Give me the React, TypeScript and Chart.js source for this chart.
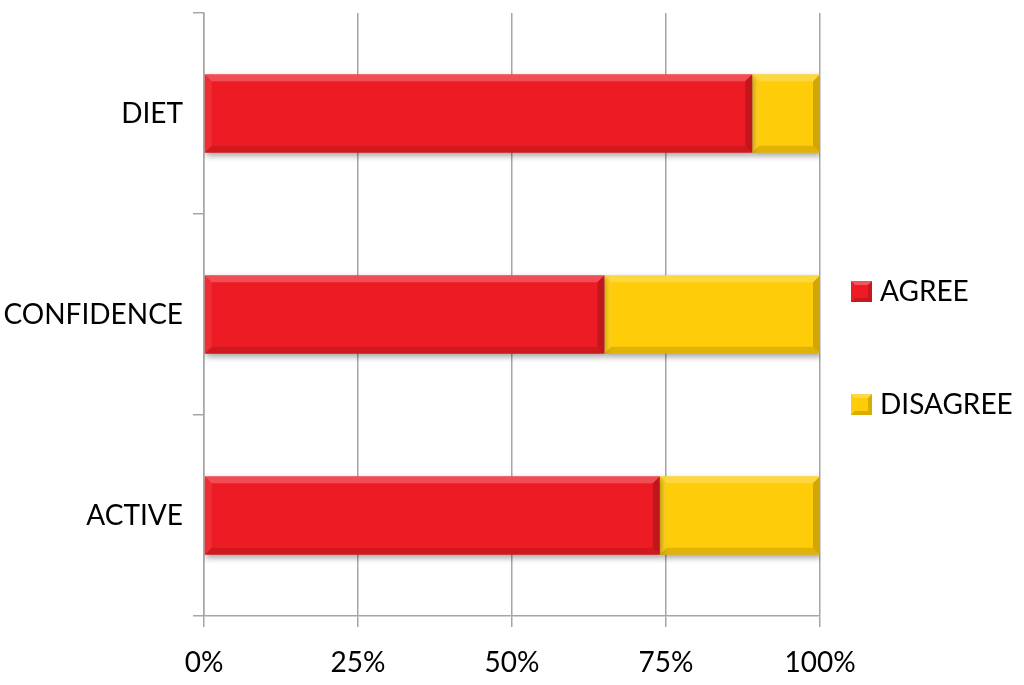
import React, { useEffect, useRef } from "react";
import { Chart, registerables } from "chart.js";

Chart.register(...registerables);

const categories = ["DIET", "CONFIDENCE", "ACTIVE"];
const agreeValues = [89, 65, 74];
const disagreeValues = [11, 35, 26];
const xTicks = [0, 25, 50, 75, 100];
const seriesNames = ["AGREE", "DISAGREE"];

const FONT = "Lato, 'Open Sans', sans-serif";
const RED = "#ED1C24";
const YELLOW = "#FECC08";

const bevelPlugin = {
  id: "bevel",
  beforeDatasetDraw(chart: any) {
    const ctx = chart.ctx;
    ctx.save();
    ctx.shadowColor = "rgba(0,0,0,0.35)";
    ctx.shadowBlur = 6;
    ctx.shadowOffsetY = 3;
    ctx.shadowOffsetX = 1;
  },
  afterDatasetDraw(chart: any, args: any) {
    const ctx = chart.ctx;
    ctx.restore();
    const meta = args.meta;
    const b = 7;
    meta.data.forEach((el: any) => {
      const p = el.getProps(["x", "y", "base", "height"], true);
      const l = Math.min(p.base, p.x);
      const r = Math.max(p.base, p.x);
      const t = p.y - p.height / 2;
      const bo = p.y + p.height / 2;
      const poly = (pts: number[][], color: string) => {
        ctx.beginPath();
        ctx.moveTo(pts[0][0], pts[0][1]);
        for (let i = 1; i < pts.length; i++) ctx.lineTo(pts[i][0], pts[i][1]);
        ctx.closePath();
        ctx.fillStyle = color;
        ctx.fill();
      };
      ctx.save();
      poly([[l, t], [r, t], [r - b, t + b], [l + b, t + b]], "rgba(255,255,255,0.22)");
      poly([[l, t], [l + b, t + b], [l + b, bo - b], [l, bo]], "rgba(255,255,255,0.08)");
      poly([[r, t], [r, bo], [r - b, bo - b], [r - b, t + b]], "rgba(0,0,0,0.18)");
      poly([[l, bo], [r, bo], [r - b, bo - b], [l + b, bo - b]], "rgba(0,0,0,0.12)");
      ctx.restore();
    });
  },
};

const legendPlugin = {
  id: "customLegend",
  afterDraw(chart: any) {
    const ctx = chart.ctx;
    const x0 = 851;
    const ys = [291, 404];
    ctx.save();
    chart.data.datasets.forEach((ds: any, i: number) => {
      const y = ys[i];
      ctx.fillStyle = ds.backgroundColor;
      ctx.fillRect(x0, y - 10, 21, 21);
      ctx.fillStyle = "rgba(0,0,0,0.15)";
      ctx.beginPath();
      ctx.moveTo(x0 + 21, y - 10);
      ctx.lineTo(x0 + 21, y + 11);
      ctx.lineTo(x0, y + 11);
      ctx.lineTo(x0 + 4, y + 7);
      ctx.lineTo(x0 + 17, y + 7);
      ctx.lineTo(x0 + 17, y - 6);
      ctx.closePath();
      ctx.fill();
      ctx.fillStyle = "rgba(255,255,255,0.25)";
      ctx.beginPath();
      ctx.moveTo(x0, y - 10);
      ctx.lineTo(x0 + 21, y - 10);
      ctx.lineTo(x0 + 17, y - 6);
      ctx.lineTo(x0 + 4, y - 6);
      ctx.closePath();
      ctx.fill();
      ctx.fillStyle = "#000";
      ctx.font = `28px ${FONT}`;
      ctx.textBaseline = "middle";
      ctx.textAlign = "left";
      ctx.fillText(ds.label, 880, y + 1);
    });
    ctx.restore();
  },
};

export default function App() {
  const ref = useRef<HTMLCanvasElement>(null);
  useEffect(() => {
    const chart = new Chart(ref.current!, {
      type: "bar",
      data: {
        labels: categories,
        datasets: [
          {
            label: seriesNames[0],
            data: agreeValues,
            backgroundColor: RED,
            borderWidth: 0,
          },
          {
            label: seriesNames[1],
            data: disagreeValues,
            backgroundColor: YELLOW,
            borderWidth: 0,
          },
        ],
      },
      options: {
        indexAxis: "y",
        animation: false,
        responsive: true,
        maintainAspectRatio: false,
        layout: { padding: { top: 13, right: 204, left: 0, bottom: 0 } },
        datasets: { bar: { categoryPercentage: 1, barPercentage: 0.39 } },
        plugins: {
          legend: { display: false },
          tooltip: { enabled: false },
        },
        scales: {
          x: {
            stacked: true,
            min: 0,
            max: 100,
            afterFit(scale: any) {
              scale.height = 69;
              scale.paddingLeft = 0;
              scale.paddingRight = 0;
            },
            afterBuildTicks(scale: any) {
              scale.ticks = xTicks.map((v) => ({ value: v }));
            },
            ticks: {
              callback: (v: any) => v + "%",
              color: "#000",
              font: { family: FONT, size: 28 },
              padding: 19,
              maxRotation: 0,
            },
            grid: {
              color: "#A6A6A6",
              lineWidth: 1.5,
              tickLength: 11,
              drawTicks: true,
            },
            border: { color: "#A6A6A6", width: 1.5 },
          },
          y: {
            stacked: true,
            afterFit(scale: any) {
              scale.width = 204;
              scale.paddingTop = 0;
              scale.paddingBottom = 0;
            },
            ticks: {
              color: "#000",
              font: { family: FONT, size: 28 },
              padding: 10,
            },
            grid: {
              drawOnChartArea: false,
              color: "#A6A6A6",
              lineWidth: 1.5,
              tickLength: 11,
              offset: true,
            },
            border: { color: "#A6A6A6", width: 1.5 },
          },
        },
      },
      plugins: [bevelPlugin, legendPlugin],
    });
    return () => chart.destroy();
  }, []);
  return (
    <div style={{ position: "fixed", left: 0, top: 0, width: 1024, height: 685, background: "#fff" }}>
      <canvas ref={ref} />
    </div>
  );
}
